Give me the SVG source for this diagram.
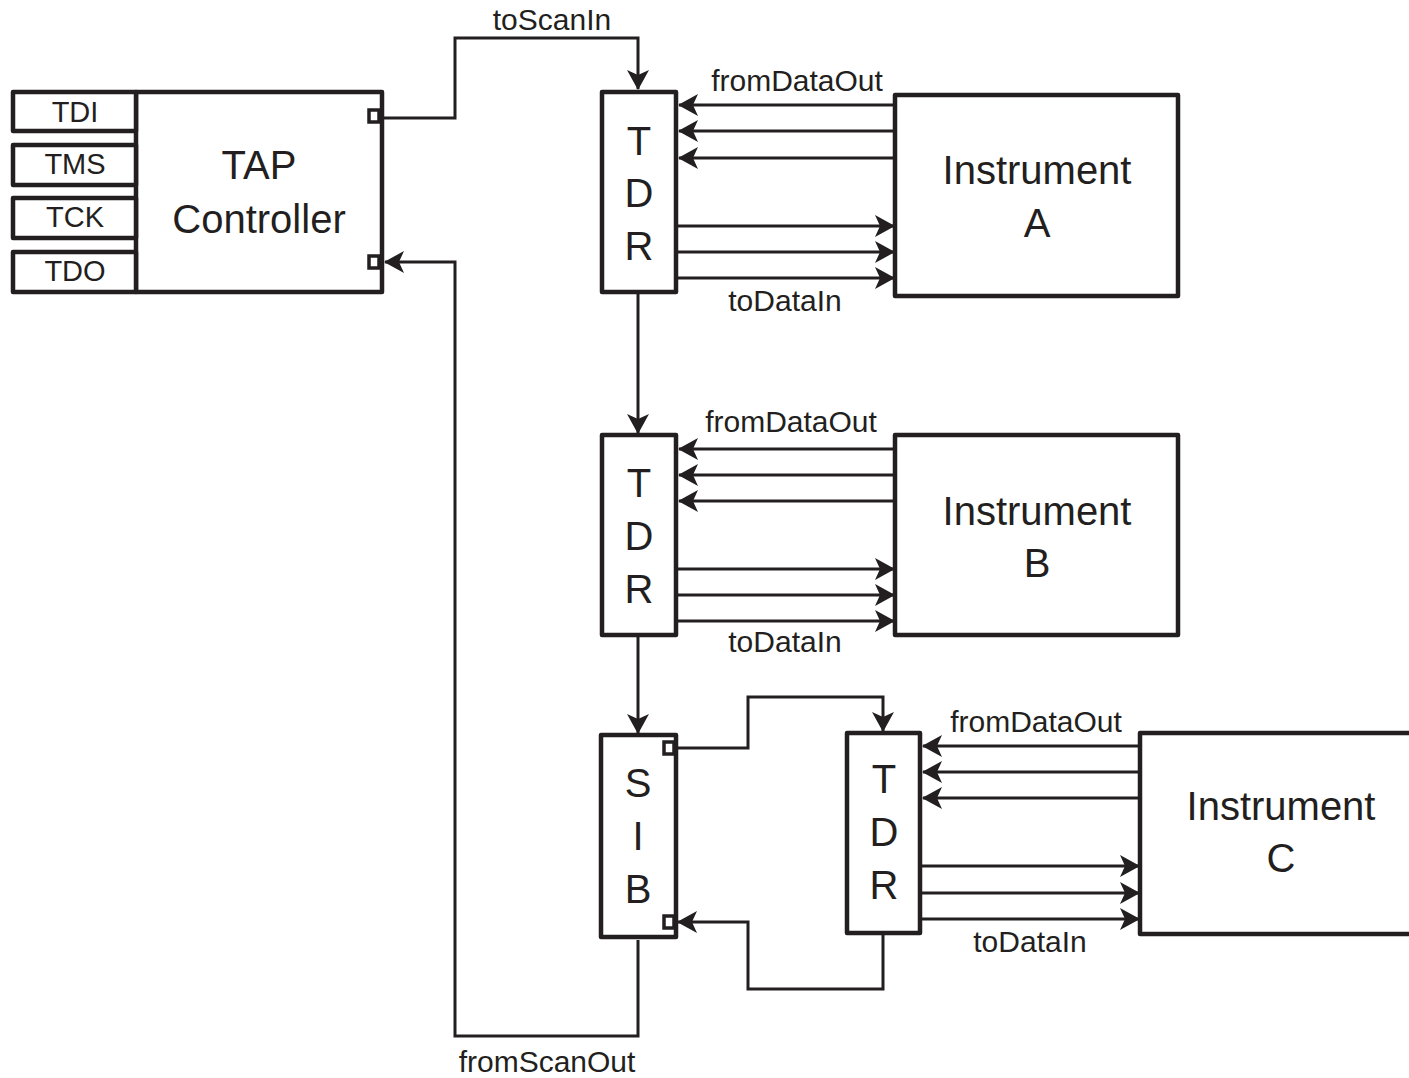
<svg xmlns="http://www.w3.org/2000/svg" width="1409" height="1078" viewBox="0 0 1409 1078">
<style>
.box{fill:#fff;stroke:#231f20;stroke-width:4.5;stroke-linejoin:round}
.port{fill:#fff;stroke:#231f20;stroke-width:3.5}
.w{fill:none;stroke:#231f20;stroke-width:3}
.a{fill:none;stroke:#231f20;stroke-width:3;marker-end:url(#ah)}
.lbl{font-family:"Liberation Sans",Arial,sans-serif;font-size:30px;fill:#231f20}
.big{font-family:"Liberation Sans",Arial,sans-serif;font-size:40px;fill:#231f20;text-anchor:middle}
.pin{font-family:"Liberation Sans",Arial,sans-serif;font-size:29px;fill:#231f20;text-anchor:middle}
</style>
<defs>
<marker id="ah" viewBox="0 0 20 22" markerUnits="userSpaceOnUse" markerWidth="20" markerHeight="22" refX="19" refY="11" orient="auto">
<path d="M0,0 L20,11 L0,22 L5,11 Z" fill="#231f20"/>
</marker>
</defs>

<g id="connectors">
<path class="a" d="M382,118 H455 V38 H638 V89"/>
<path class="a" d="M638,940 V1036 H455 V262 H385"/>
<path class="a" d="M638,293 V433"/>
<path class="a" d="M638,636 V733"/>
<path class="a" d="M676,748 H748 V697 H883 V731"/>
<path class="a" d="M883,935 V989 H748 V922 H678"/>
<path class="a" d="M895,105 H679"/>
<path class="a" d="M895,131 H679"/>
<path class="a" d="M895,158 H679"/>
<path class="a" d="M677,226 H894"/>
<path class="a" d="M677,252 H894"/>
<path class="a" d="M677,278 H894"/>
<path class="a" d="M895,449 H679"/>
<path class="a" d="M895,475 H679"/>
<path class="a" d="M895,501 H679"/>
<path class="a" d="M677,569 H894"/>
<path class="a" d="M677,595 H894"/>
<path class="a" d="M677,621 H894"/>
<path class="a" d="M1140,746 H923"/>
<path class="a" d="M1140,772 H923"/>
<path class="a" d="M1140,798 H923"/>
<path class="a" d="M921,866 H1139"/>
<path class="a" d="M921,893 H1139"/>
<path class="a" d="M921,919 H1139"/>
<text class="lbl" x="552" y="30" text-anchor="middle">toScanIn</text>
<text class="lbl" x="797" y="91" text-anchor="middle">fromDataOut</text>
<text class="lbl" x="785" y="311" text-anchor="middle">toDataIn</text>
<text class="lbl" x="791" y="432" text-anchor="middle">fromDataOut</text>
<text class="lbl" x="785" y="652" text-anchor="middle">toDataIn</text>
<text class="lbl" x="1036" y="732" text-anchor="middle">fromDataOut</text>
<text class="lbl" x="1030" y="952" text-anchor="middle">toDataIn</text>
<text class="lbl" x="547" y="1072" text-anchor="middle">fromScanOut</text>
</g>

<g id="tap">
<rect class="box" x="136" y="92" width="246" height="200"/>
<rect class="box" x="13" y="92" width="123" height="39"/>
<rect class="box" x="13" y="145" width="123" height="40"/>
<rect class="box" x="13" y="198" width="123" height="40"/>
<rect class="box" x="13" y="252" width="123" height="40"/>
<rect class="port" x="369" y="110" width="10" height="12"/>
<rect class="port" x="369" y="256" width="10" height="12"/>
<text class="pin" x="75" y="122">TDI</text>
<text class="pin" x="75" y="174">TMS</text>
<text class="pin" x="75" y="227">TCK</text>
<text class="pin" x="75" y="281">TDO</text>
<text class="big" x="259" y="179" font-size="41">TAP</text>
<text class="big" x="259" y="233" font-size="41">Controller</text>
</g>

<g id="tdrA">
<rect class="box" x="602" y="92" width="74" height="200"/>
<text class="big" x="639" y="155">T</text>
<text class="big" x="639" y="207">D</text>
<text class="big" x="639" y="260">R</text>
</g>
<g id="instA">
<rect class="box" x="895" y="95" width="283" height="201"/>
<text class="big" x="1037" y="184">Instrument</text>
<text class="big" x="1037" y="237">A</text>
</g>

<g id="tdrB">
<rect class="box" x="602" y="435" width="74" height="200"/>
<text class="big" x="639" y="497">T</text>
<text class="big" x="639" y="550">D</text>
<text class="big" x="639" y="603">R</text>
</g>
<g id="instB">
<rect class="box" x="895" y="435" width="283" height="200"/>
<text class="big" x="1037" y="525">Instrument</text>
<text class="big" x="1037" y="577">B</text>
</g>

<g id="sib">
<rect class="box" x="601" y="735" width="75" height="202"/>
<rect class="port" x="664" y="742" width="10" height="12"/>
<rect class="port" x="664" y="916" width="10" height="12"/>
<text class="big" x="638" y="797">S</text>
<text class="big" x="638" y="850">I</text>
<text class="big" x="638" y="903">B</text>
</g>

<g id="tdrC">
<rect class="box" x="847" y="733" width="73" height="200"/>
<text class="big" x="884" y="793">T</text>
<text class="big" x="884" y="846">D</text>
<text class="big" x="884" y="899">R</text>
</g>
<g id="instC">
<rect class="box" x="1140" y="733" width="290" height="201"/>
<text class="big" x="1281" y="820">Instrument</text>
<text class="big" x="1281" y="872">C</text>
</g>
</svg>
